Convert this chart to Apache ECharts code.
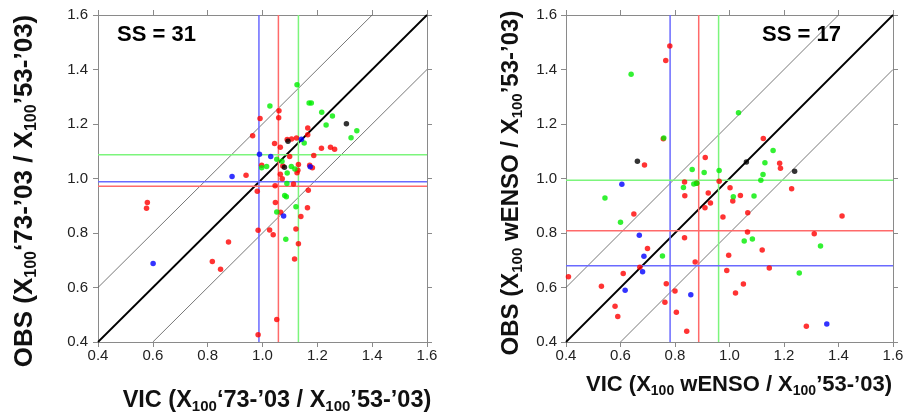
<!DOCTYPE html>
<html><head><meta charset="utf-8">
<script src="https://cdn.jsdelivr.net/npm/echarts@6/dist/echarts.min.js"></script>
<style>html,body{margin:0;padding:0;background:#fff}#c{width:908px;height:415px}</style>
</head><body><div id="c"></div><script>
// ---------- data ----------
const axisMin = 0.4, axisMax = 1.6, axisStep = 0.2;
const ssLeft = 'SS = 31';
const ssRight = 'SS = 17';

const leftRed = [[0.580,0.912],[0.577,0.891],[0.817,0.695],[0.847,0.667],[0.876,0.767],[0.940,1.012],[0.964,1.157],[0.991,1.220],[0.981,0.953],[0.984,0.810],[0.984,0.427],[0.997,1.049],[1.052,0.483],[1.060,1.249],[1.059,1.223],[1.044,1.128],[1.065,1.115],[1.099,1.081],[1.090,1.143],[1.106,1.145],[1.124,1.149],[1.165,1.185],[1.165,1.161],[1.215,1.111],[1.248,1.115],[1.263,1.107],[1.187,1.084],[1.131,1.051],[1.172,1.049],[1.182,1.039],[1.126,1.021],[1.129,1.030],[1.065,1.016],[1.072,0.999],[1.074,1.046],[1.113,0.980],[1.046,0.973],[1.047,0.912],[1.066,0.876],[1.167,0.957],[1.164,0.893],[1.140,0.861],[1.122,0.815],[1.131,0.761],[1.117,0.705],[1.026,0.811],[1.039,0.794]];
const leftGreen = [[1.027,1.266],[1.126,1.344],[1.170,1.277],[1.178,1.277],[1.216,1.243],[1.255,1.229],[1.232,1.196],[1.152,1.130],[1.323,1.150],[1.344,1.175],[1.015,1.044],[0.997,1.039],[1.052,1.071],[1.071,1.063],[1.105,1.044],[1.118,1.035],[1.090,1.020],[1.089,0.982],[1.081,0.938],[1.087,0.933],[1.052,0.877],[1.122,0.896],[1.085,0.777]];
const leftBlue = [[0.601,0.688],[0.889,1.007],[0.989,1.089],[1.030,1.081],[1.142,1.144],[1.174,1.043],[1.077,0.862]];
const leftBlack = [[1.306,1.201],[1.093,1.137],[1.080,1.041]];

const rightRed = [[0.781,1.486],[0.766,1.433],[0.757,1.146],[0.688,1.050],[0.911,1.077],[0.835,0.987],[0.879,0.983],[0.962,0.990],[0.922,0.947],[0.836,0.937],[1.002,0.966],[1.040,0.938],[1.012,0.917],[0.930,0.910],[0.910,0.893],[0.649,0.870],[0.976,0.859],[1.067,0.874],[1.124,1.147],[1.184,1.056],[1.187,1.038],[1.228,0.962],[1.413,0.862],[1.066,0.804],[1.311,0.797],[0.835,0.783],[0.699,0.743],[1.120,0.738],[0.997,0.718],[0.874,0.694],[0.671,0.674],[1.146,0.672],[0.990,0.662],[0.610,0.651],[0.409,0.639],[0.530,0.605],[0.768,0.614],[0.800,0.587],[1.051,0.613],[1.022,0.580],[0.580,0.531],[0.590,0.494],[0.763,0.546],[0.805,0.509],[0.843,0.439],[1.282,0.458]];
const rightGreen = [[0.639,1.383],[1.033,1.241],[0.759,1.149],[1.160,1.103],[1.130,1.058],[0.863,1.033],[0.907,1.022],[0.962,1.029],[1.123,1.015],[1.115,0.994],[0.831,0.967],[0.869,0.980],[0.880,0.983],[1.014,0.933],[1.090,0.936],[0.543,0.928],[0.600,0.839],[1.054,0.771],[1.084,0.778],[0.754,0.716],[1.334,0.752],[1.256,0.653]];
const rightBlue = [[0.605,0.979],[0.669,0.792],[0.686,0.715],[0.681,0.658],[0.617,0.590],[0.858,0.573],[1.357,0.466]];
const rightBlack = [[0.662,1.063],[1.062,1.061],[1.239,1.027]];

// reference lines (vertical = x value, horizontal = y value), order: blue, red, green
const leftVert = [0.987, 1.058, 1.131];
const leftHorz = [0.988, 0.972, 1.087];
const rightVert = [0.782, 0.887, 0.960];
const rightHorz = [0.680, 0.808, 0.994];

// diagonal guides: 1:1 line and +/-0.2 offsets
const diagMain = [[0.4,0.4],[1.6,1.6]];
const diagUpper = [[0.4,0.6],[1.4,1.6]];
const diagLower = [[0.6,0.4],[1.6,1.4]];

// ---------- styles ----------
const pointColors = {red:'#ff0000', green:'#00ee00', blue:'#0000ff', black:'#000000'};
const lineColors = ['#6a6aff', '#ff6a6a', '#7cf57c'];
const FONT = '"Liberation Sans", Arial, sans-serif';

const chart = echarts.init(document.getElementById('c'), null, {renderer:'canvas'});

function xAx(grid, pos, labels) {
  return {type:'value', gridIndex:grid, position:pos, min:axisMin, max:axisMax, interval:axisStep,
    axisLine:{show:true, onZero:false, lineStyle:{color:'#8a8a8a', width:1}},
    axisTick:{show:true, inside:false, length:5, lineStyle:{color:'#8a8a8a'}},
    splitLine:{show:false},
    axisLabel:{show:labels, margin:6, color:'#222', fontSize:15, fontFamily:FONT, formatter:v=>v.toFixed(1)}};
}
function yAx(grid, pos, labels, margin) {
  return {type:'value', gridIndex:grid, position:pos, min:axisMin, max:axisMax, interval:axisStep,
    axisLine:{show:true, onZero:false, lineStyle:{color:'#8a8a8a', width:1}},
    axisTick:{show:true, inside:false, length:5, lineStyle:{color:'#8a8a8a'}},
    splitLine:{show:false},
    axisLabel:{show:labels, margin:margin, color:'#222', fontSize:15, fontFamily:FONT, formatter:v=>v.toFixed(1)}};
}

const series = [];
function lineSeries(xi, yi, data, color, width, z) {
  series.push({type:'line', xAxisIndex:xi, yAxisIndex:yi, data:data, showSymbol:false, symbol:'none',
    silent:true, animation:false, lineStyle:{color:color, width:width}, z:z});
}
function panel(xi, yi, vert, horz, red, green, blue, black) {
  lineSeries(xi, yi, diagUpper, '#555', 0.8, 2);
  lineSeries(xi, yi, diagLower, '#555', 0.8, 2);
  lineSeries(xi, yi, diagMain, '#000', 1.8, 2);
  vert.forEach((v,i)=>lineSeries(xi, yi, [[v,axisMin],[v,axisMax]], lineColors[i], 1.5, 3));
  horz.forEach((v,i)=>lineSeries(xi, yi, [[axisMin,v],[axisMax,v]], lineColors[i], 1.5, 3));
  [[red,'red'],[green,'green'],[blue,'blue'],[black,'black']].forEach(([d,c])=>{
    series.push({type:'scatter', xAxisIndex:xi, yAxisIndex:yi, data:d, symbol:'circle', symbolSize:5.5,
      itemStyle:{color:pointColors[c]}, animation:false, z:4});
  });
}
panel(0, 0, leftVert, leftHorz, leftRed, leftGreen, leftBlue, leftBlack);
panel(2, 2, rightVert, rightHorz, rightRed, rightGreen, rightBlue, rightBlack);

function mkRich(main, sub, pad) {
  return {
    m:{fontSize:main, fontWeight:'bold', fontFamily:FONT, fill:'#111'},
    s:{fontSize:sub, fontWeight:'bold', fontFamily:FONT, fill:'#111', padding:[pad,0,0,0]}
  };
}
function title(x, y, txt, rot, r) {
  return {type:'text', x:x, y:y, rotation:rot, z:10,
    style:{text:txt, align:'center', verticalAlign:'middle', rich:r, fill:'#111'}};
}

chart.setOption({
  animation:false,
  backgroundColor:'#fff',
  grid:[{left:98, top:15, width:329, height:327}, {left:566, top:15, width:327, height:327}],
  xAxis:[xAx(0,'bottom',true), xAx(0,'top',false), xAx(1,'bottom',true), xAx(1,'top',false)],
  yAxis:[yAx(0,'left',true,10), yAx(0,'right',false,10), yAx(1,'left',true,9), yAx(1,'right',false,9)],
  series:series,
  graphic:[
    {type:'text', x:117, y:35, z:10, style:{text:ssLeft, font:'bold 22px '+FONT, fill:'#000', verticalAlign:'middle'}},
    {type:'text', x:762, y:35, z:10, style:{text:ssRight, font:'bold 22px '+FONT, fill:'#000', verticalAlign:'middle'}},
    title(277, 401, '{m|VIC (X}{s|100}{m|‘73-’03 / X}{s|100}{m|’53-’03)}', 0, mkRich(23.5, 15, 12)),
    title(739, 385, '{m|VIC (X}{s|100}{m| wENSO / X}{s|100}{m|’53-’03)}', 0, mkRich(22, 14, 12)),
    title(25, 191, '{m|OBS (X}{s|100}{m|‘73-’03 / X}{s|100}{m|’53-’03)}', Math.PI/2, mkRich(26, 16, 14)),
    title(511, 183, '{m|OBS (X}{s|100}{m| wENSO / X}{s|100}{m|’53-’03)}', Math.PI/2, mkRich(24, 15, 13))
  ]
});
</script></body></html>
